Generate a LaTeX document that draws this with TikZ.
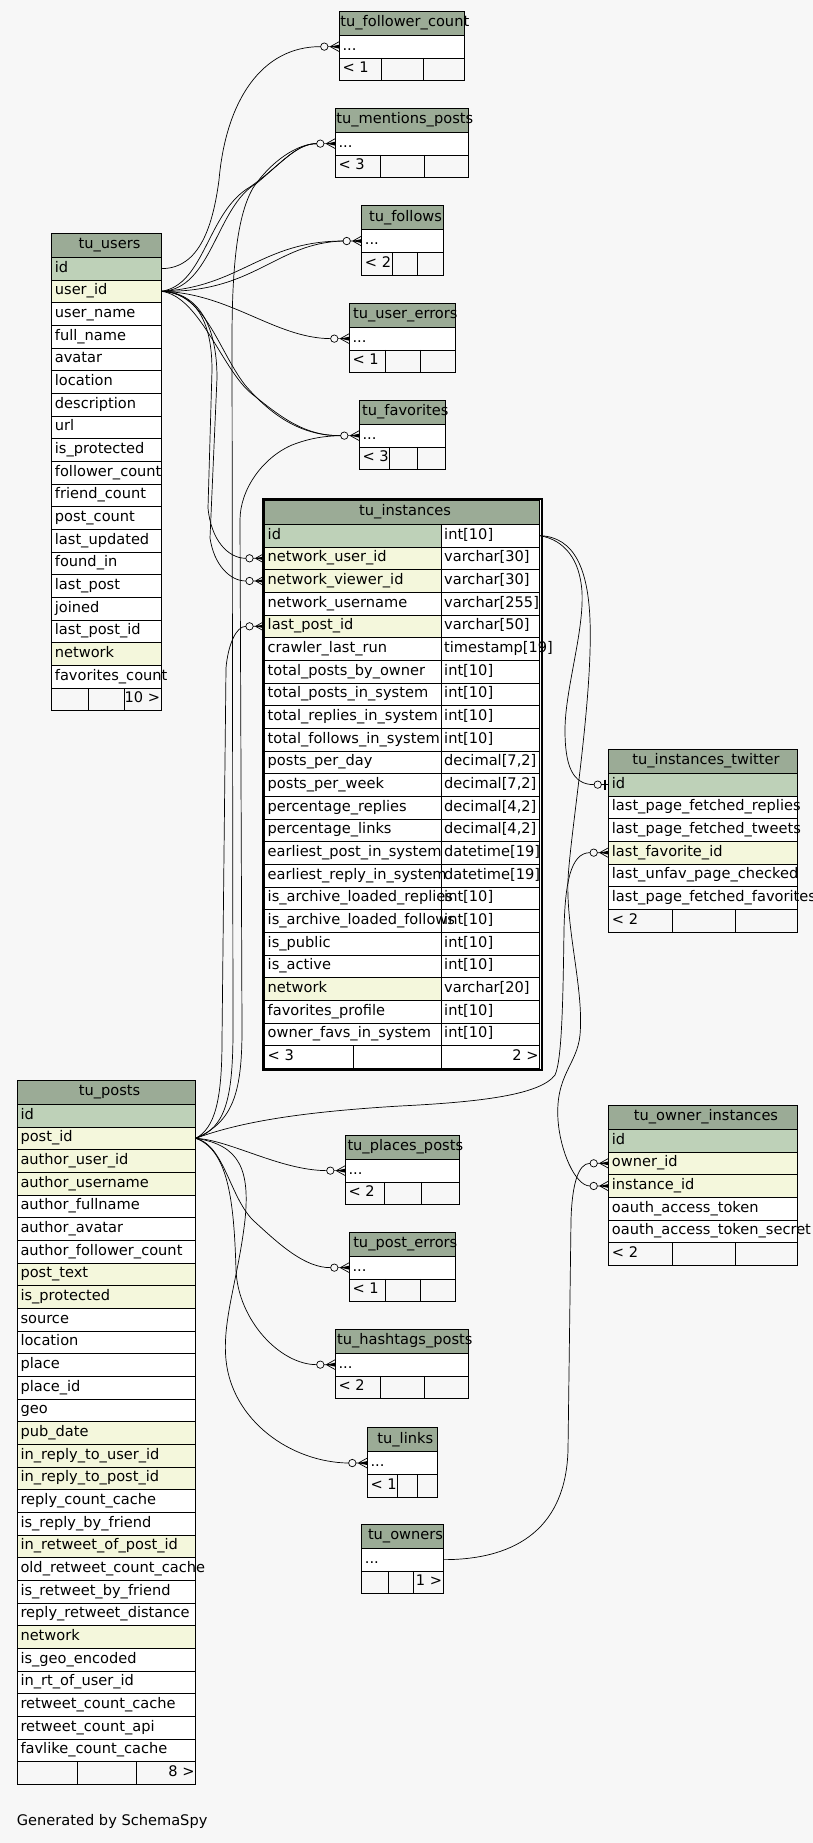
\documentclass[tikz,border=0pt]{standalone}
\usepackage{fontspec}
\setmainfont{DejaVu Sans}
\usetikzlibrary{calc}

\pgfdeclarelayer{labels}
\pgfsetlayers{main,labels}

\definecolor{bgcol}{HTML}{F7F7F7}
\definecolor{headfill}{HTML}{9BAB96}
\definecolor{pkfill}{HTML}{BED1B8}
\definecolor{ixfill}{HTML}{F4F7DC}

\newcommand{\erfont}{\fontsize{14.6}{17}\selectfont}
\newcommand{\rowdots}{...}

\tikzset{
  headcell/.style={draw, fill=headfill, minimum height=24pt, inner sep=0pt, outer sep=0pt, line width=0.75pt},
  rowcell/.style={draw, minimum height=22.67pt, inner sep=0pt, outer sep=0pt, line width=0.75pt},
  cellline/.style={line width=0.75pt},
  celltext/.style={anchor=base west, inner sep=0pt, font=\erfont},
  headtext/.style={anchor=base, inner sep=0pt, font=\erfont},
  relation/.style={line width=0.7pt},
}

% table: name, x left, x right, y top, title, rows key/text/fill
\newcommand{\erTable}[6]{%
  \node[headcell, minimum width={(#3-#2)*1pt}] (#1) at ({(#2+#3)/2},{#4+12}) {};
  \begin{pgfonlayer}{labels}
    \node[headtext] at ([xshift=3pt,yshift=-3.5pt]#1.center) {#5};
  \end{pgfonlayer}
  \foreach \rkey/\rtext/\rfill [count=\i] in {#6} {
    \node[rowcell, fill=\rfill, minimum width={(#3-#2)*1pt}] (#1-\rkey) at ({(#2+#3)/2},{#4+24+(\i-0.5)*22.67}) {};
    \begin{pgfonlayer}{labels}
      \node[celltext] at ([xshift=3pt,yshift=-3.5pt]#1-\rkey.west) {\rtext};
    \end{pgfonlayer}
  }%
}

% footer: x left, divider, divider, x right, table top, rows, left text, right text
\newcommand{\erFoot}[8]{%
  \pgfmathsetmacro{\footy}{#5+24+#6*22.67}
  \draw[cellline] (#1,\footy) rectangle (#4,\footy+22.67);
  \draw[cellline] (#2,\footy) -- (#2,\footy+22.67) (#3,\footy) -- (#3,\footy+22.67);
  \node[celltext] at (#1+3,\footy+14.8) {#7};
  \node[celltext, anchor=base east] at (#4-1,\footy+14.8) {#8};
}

% many end: circle and crow's foot
\newcommand{\fkcrow}[2]{%
  \draw[relation, fill=bgcol] ([xshift=-15pt]#1.west) circle (3.7pt);
  \draw[relation] ([xshift=-11.3pt]#1.west) -- ([xshift=-9pt]#1.west)
    -- ([yshift=5pt]#1.west) ([xshift=-9pt]#1.west) -- (#1.west)
    ([xshift=-9pt]#1.west) -- ([yshift=-5pt]#1.west);
  \fill ([xshift=-9pt]#1.west) -- ([yshift=2pt]#1.west) -- ([yshift=-2pt]#1.west) -- cycle;
  \coordinate (#2) at ([xshift=-18.7pt]#1.west);
}

% one end: circle and bar
\newcommand{\fkone}[2]{%
  \draw[relation, fill=bgcol] ([xshift=-11pt]#1.west) circle (3.7pt);
  \draw[relation] ([xshift=-7.3pt]#1.west) -- (#1.west);
  \draw[line width=2pt] ([xshift=-3.5pt,yshift=5pt]#1.west) -- ([xshift=-3.5pt,yshift=-5pt]#1.west);
  \coordinate (#2) at ([xshift=-14.7pt]#1.west);
}

\begin{document}
\begin{tikzpicture}[x=1pt,y=-1pt]
	% Background
	\fill[bgcol] (0,0) rectangle (813,1843);
	\useasboundingbox (0,0) rectangle (813,1843);

	% Small tables at the top
	\erTable{follcount}{339.3}{464.3}{11.3}{tu\_follower\_count}{dots/\rowdots/white}
	\erFoot{339.3}{381}{423.3}{464.3}{11.3}{1}{< 1}{}
	\erTable{mentions}{335.3}{468.3}{108.3}{tu\_mentions\_posts}{dots/\rowdots/white}
	\erFoot{335.3}{380.3}{424.3}{468.3}{108.3}{1}{< 3}{}
	\erTable{follows}{361.7}{443.3}{205.7}{tu\_follows}{dots/\rowdots/white}
	\erFoot{361.7}{392.3}{417.3}{443.3}{205.7}{1}{< 2}{}
	\erTable{usererrors}{349.3}{455.3}{303.3}{tu\_user\_errors}{dots/\rowdots/white}
	\erFoot{349.3}{385.3}{420.7}{455.3}{303.3}{1}{< 1}{}
	\erTable{favorites}{359.3}{445.3}{400.3}{tu\_favorites}{dots/\rowdots/white}
	\erFoot{359.3}{389}{417.3}{445.3}{400.3}{1}{< 3}{}

	% tu_users
	\erTable{users}{51.7}{161.3}{233.3}{tu\_users}{id/id/pkfill, userid/user\_id/ixfill,
		username/user\_name/white, fullname/full\_name/white, avatar/avatar/white,
		location/location/white, description/description/white, url/url/white,
		isprotected/is\_protected/white, followercount/follower\_count/white,
		friendcount/friend\_count/white, postcount/post\_count/white,
		lastupdated/last\_updated/white, foundin/found\_in/white, lastpost/last\_post/white,
		joined/joined/white, lastpostid/last\_post\_id/white, network/network/ixfill,
		favoritescount/favorites\_count/white}
	\erFoot{51.7}{88.7}{124.7}{161.3}{233.3}{19}{}{10 >}

	% tu_instances
	\draw[line width=2pt, fill=white] (262.7,498.7) rectangle (541.5,1070.2);
	\erTable{inst}{264.5}{539.7}{500.3}{tu\_instances}{id/id/pkfill,
		networkuserid/network\_user\_id/ixfill, networkviewerid/network\_viewer\_id/ixfill,
		networkusername/network\_username/white, lastpostid/last\_post\_id/ixfill,
		crawlerlastrun/crawler\_last\_run/white, totalpostsbyowner/total\_posts\_by\_owner/white,
		totalpostsinsystem/total\_posts\_in\_system/white,
		totalrepliesinsystem/total\_replies\_in\_system/white,
		totalfollowsinsystem/total\_follows\_in\_system/white,
		postsperday/posts\_per\_day/white, postsperweek/posts\_per\_week/white,
		percentagereplies/percentage\_replies/white, percentagelinks/percentage\_links/white,
		earliestpostinsystem/earliest\_post\_in\_system/white,
		earliestreplyinsystem/earliest\_reply\_in\_system/white,
		isarchiveloadedreplies/is\_archive\_loaded\_replies/white,
		isarchiveloadedfollows/is\_archive\_loaded\_follows/white,
		ispublic/is\_public/white, isactive/is\_active/white, network/network/ixfill,
		favoritesprofile/favorites\_profile/white, ownerfavsinsystem/owner\_favs\_in\_system/white}
	%Type column
	\foreach \ty [count=\i] in {int[10], varchar[30], varchar[30], varchar[255], varchar[50],
		timestamp[19], int[10], int[10], int[10], int[10], {decimal[7,2]}, {decimal[7,2]},
		{decimal[4,2]}, {decimal[4,2]}, datetime[19], datetime[19], int[10], int[10],
		int[10], int[10], varchar[20], int[10], int[10]} {
		\draw[cellline, fill=white] (441,{524.3+(\i-1)*22.67}) rectangle (539.7,{524.3+\i*22.67});
		\node[celltext] at (444,{524.3+(\i-0.5)*22.67+3.5}) {\ty};
	}
	\erFoot{264.5}{353.7}{441}{539.7}{500.3}{23}{< 3}{2 >}

	% Tables on the right
	\erTable{twitter}{608.7}{797.3}{749.3}{tu\_instances\_twitter}{id/id/pkfill,
		lastpagefetchedreplies/last\_page\_fetched\_replies/white,
		lastpagefetchedtweets/last\_page\_fetched\_tweets/white,
		lastfavoriteid/last\_favorite\_id/ixfill,
		lastunfavpagechecked/last\_unfav\_page\_checked/white,
		lastpagefetchedfavorites/last\_page\_fetched\_favorites/white}
	\erFoot{608.7}{672.3}{735.3}{797.3}{749.3}{6}{< 2}{}
	\erTable{ownerinst}{608.7}{797.3}{1105.3}{tu\_owner\_instances}{id/id/pkfill,
		ownerid/owner\_id/ixfill, instanceid/instance\_id/ixfill,
		oauthaccesstoken/oauth\_access\_token/white,
		oauthaccesstokensecret/oauth\_access\_token\_secret/white}
	\erFoot{608.7}{672.3}{735.3}{797.3}{1105.3}{5}{< 2}{}

	% tu_posts
	\erTable{posts}{17.3}{195.7}{1080.3}{tu\_posts}{id/id/pkfill, postid/post\_id/ixfill,
		authoruserid/author\_user\_id/ixfill, authorusername/author\_username/ixfill,
		authorfullname/author\_fullname/white, authoravatar/author\_avatar/white,
		authorfollowercount/author\_follower\_count/white, posttext/post\_text/ixfill,
		isprotected/is\_protected/ixfill, source/source/white, location/location/white,
		place/place/white, placeid/place\_id/white, geo/geo/white, pubdate/pub\_date/ixfill,
		inreplytouserid/in\_reply\_to\_user\_id/ixfill,
		inreplytopostid/in\_reply\_to\_post\_id/ixfill,
		replycountcache/reply\_count\_cache/white, isreplybyfriend/is\_reply\_by\_friend/white,
		inretweetofpostid/in\_retweet\_of\_post\_id/ixfill,
		oldretweetcountcache/old\_retweet\_count\_cache/white,
		isretweetbyfriend/is\_retweet\_by\_friend/white,
		replyretweetdistance/reply\_retweet\_distance/white, network/network/ixfill,
		isgeoencoded/is\_geo\_encoded/white, inrtofuserid/in\_rt\_of\_user\_id/white,
		retweetcountcache/retweet\_count\_cache/white, retweetcountapi/retweet\_count\_api/white,
		favlikecountcache/favlike\_count\_cache/white}
	\erFoot{17.3}{77.3}{136.3}{195.7}{1080.3}{29}{}{8 >}

	% Small tables at the bottom
	\erTable{places}{345.3}{459.3}{1135.3}{tu\_places\_posts}{dots/\rowdots/white}
	\erFoot{345.3}{384.3}{421.3}{459.3}{1135.3}{1}{< 2}{}
	\erTable{posterrors}{349.3}{455.3}{1232.3}{tu\_post\_errors}{dots/\rowdots/white}
	\erFoot{349.3}{385.3}{420.7}{455.3}{1232.3}{1}{< 1}{}
	\erTable{hashtags}{335.3}{468.3}{1329.3}{tu\_hashtags\_posts}{dots/\rowdots/white}
	\erFoot{335.3}{380.3}{424.3}{468.3}{1329.3}{1}{< 2}{}
	\erTable{links}{367.3}{437.3}{1427.7}{tu\_links}{dots/\rowdots/white}
	\erFoot{367.3}{397.3}{417.3}{437.3}{1427.7}{1}{< 1}{}
	\erTable{owners}{361.7}{443.3}{1524.3}{tu\_owners}{dots/\rowdots/white}
	\erFoot{361.7}{388.3}{413.3}{443.3}{1524.3}{1}{}{1 >}

	% Relation ends
	\fkcrow{follcount-dots}{fc-end}
	\fkcrow{mentions-dots}{mp-end}
	\fkcrow{follows-dots}{fo-end}
	\fkcrow{usererrors-dots}{ue-end}
	\fkcrow{favorites-dots}{fav-end}
	\fkcrow{inst-networkuserid}{nu-end}
	\fkcrow{inst-networkviewerid}{nv-end}
	\fkcrow{inst-lastpostid}{lp-end}
	\fkone{twitter-id}{tw-end}
	\fkcrow{twitter-lastfavoriteid}{lf-end}
	\fkcrow{ownerinst-ownerid}{oo-end}
	\fkcrow{ownerinst-instanceid}{oi-end}
	\fkcrow{places-dots}{pp-end}
	\fkcrow{posterrors-dots}{pe-end}
	\fkcrow{hashtags-dots}{hp-end}
	\fkcrow{links-dots}{ln-end}

	% Relations from tu_users
	\draw[relation] (users-id.east) .. controls (200,268.7) and (213,225) .. (219,180)
		.. controls (226,100) and (262,46.5) .. (fc-end);
	\draw[relation] (users-userid.east) .. controls (205,285) and (207,212) .. (250,187)
		.. controls (280,166) and (295,143.8) .. (mp-end);
	\draw[relation] (users-userid.east) .. controls (212,290) and (216,206) .. (257,183)
		.. controls (284,160) and (298,143.8) .. (mp-end);
	\draw[relation] (users-userid.east) .. controls (240,287) and (262,241) .. (fo-end);
	\draw[relation] (users-userid.east) .. controls (255,293) and (275,243) .. (fo-end);
	\draw[relation] (users-userid.east) .. controls (230,293) and (275,338.3) .. (ue-end);
	\draw[relation] (users-userid.east) .. controls (205,292) and (218,350) .. (245,385)
		.. controls (270,414) and (300,436) .. (fav-end);
	\draw[relation] (users-userid.east) .. controls (200,296) and (222,370) .. (252,394)
		.. controls (282,418) and (305,436) .. (fav-end);
	\draw[relation] (users-userid.east) .. controls (195,293) and (212,320) .. (212,370)
		-- (208,508) .. controls (211,540) and (228,558.3) .. (nu-end);
	\draw[relation] (users-userid.east) .. controls (198,292) and (217,325) .. (217,378)
		-- (210,538) .. controls (214,565) and (230,581) .. (nv-end);

	% Relations from tu_posts
	\draw[relation] (posts-postid.east) .. controls (225,1128) and (233,1100) .. (233,1030)
		-- (232,340) .. controls (232,262) and (238,214) .. (253,188)
		.. controls (272,160) and (298,143.8) .. (mp-end);
	\draw[relation] (posts-postid.east) .. controls (232,1122) and (242,1095) .. (242,1030)
		-- (240,520) .. controls (240,490) and (262,458) .. (292,445)
		.. controls (310,438) and (325,436) .. (fav-end);
	\draw[relation] (posts-postid.east) .. controls (215,1128) and (222,1100) .. (222,1040)
		-- (226,668) .. controls (228,645) and (236,626.3) .. (lp-end);
	\draw[relation] (posts-postid.east) .. controls (240,1122) and (300,1112) .. (400,1106)
		.. controls (480,1102) and (540,1095) .. (555,1075)
		.. controls (562,1060) and (563,1000) .. (564,930)
		.. controls (565,885) and (570,852.7) .. (lf-end);
	\draw[relation] (posts-postid.east) .. controls (230,1140) and (280,1170.3) .. (pp-end);
	\draw[relation] (posts-postid.east) .. controls (225,1145) and (230,1200) .. (255,1222)
		.. controls (280,1245) and (305,1267.8) .. (pe-end);
	\draw[relation] (posts-postid.east) .. controls (228,1150) and (234,1200) .. (236,1270)
		.. controls (238,1320) and (280,1364.7) .. (hp-end);
	\draw[relation] (posts-postid.east) .. controls (240,1145) and (250,1170) .. (245,1220)
		.. controls (238,1280) and (222,1320) .. (226,1360)
		.. controls (232,1420) and (290,1462.2) .. (ln-end);

	% Relations from tu_instances and tu_owners
	\draw[relation] (inst-id.east) .. controls (565,540) and (580,560) .. (582,592)
		.. controls (584,632) and (565,690) .. (565,730)
		.. controls (565,765) and (572,784.7) .. (tw-end);
	\draw[relation] (inst-id.east) .. controls (575,537) and (588,570) .. (590,620)
		.. controls (593,700) and (570,835) .. (568,880)
		.. controls (566,930) and (584,990) .. (580,1035)
		.. controls (577,1065) and (555,1075) .. (558,1120)
		.. controls (560,1150) and (575,1186) .. (oi-end);
	\draw[relation] (owners-dots.east) .. controls (520,1559.7) and (566,1525) .. (568,1450)
		-- (571,1220) .. controls (572,1185) and (578,1163.3) .. (oo-end);

	%Footnote
	\node[celltext] (generated) at (16.7,1825) {Generated by SchemaSpy};
\end{tikzpicture}
\end{document}
